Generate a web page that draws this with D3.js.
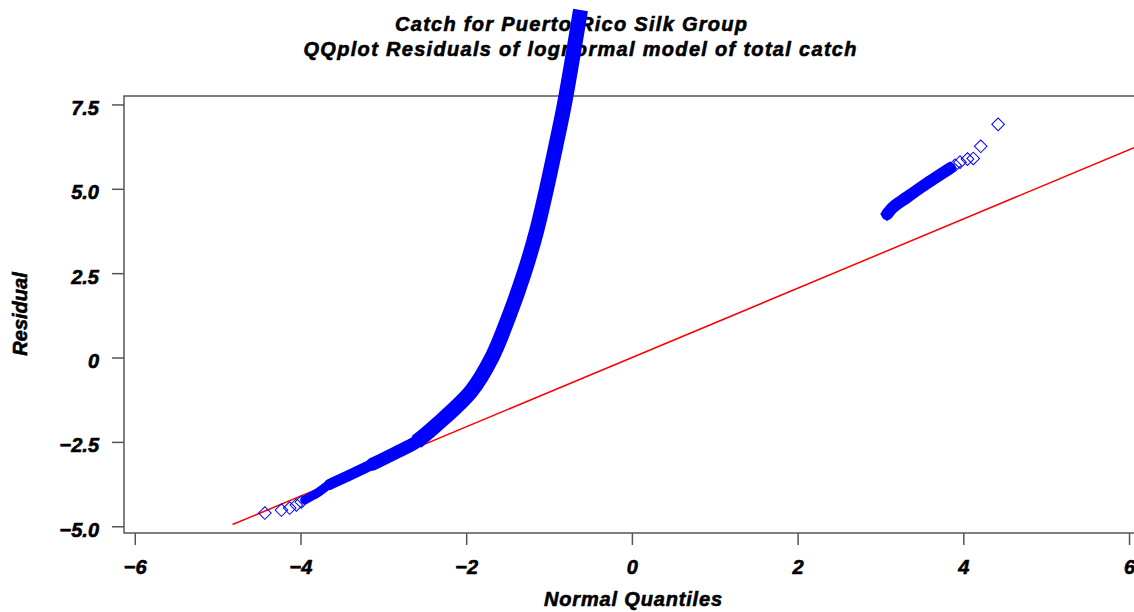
<!DOCTYPE html>
<html>
<head>
<meta charset="utf-8">
<script src="https://cdn.jsdelivr.net/npm/d3@7"></script>
<style>
  body { margin: 0; background: #fff; }
  text { font-family: "Liberation Sans", Arial, sans-serif; font-weight: bold; font-style: italic; fill: #000; stroke: #000; stroke-width: 0.6px; }
</style>
</head>
<body>
<svg width="1134" height="612"></svg>
<script>
// lower tail, sparse open diamonds
const lowTailQ = [-4.43, -4.23, -4.13, -4.05, -3.99]
const lowTailR = [-4.61, -4.52, -4.46, -4.37, -4.28]
// main dense band (normal quantile, residual)
const mainQ = [-3.95, -3.89, -3.80, -3.65, -3.41, -3.13, -2.85, -2.60, -2.36, -1.94, -1.69, -1.48, -1.30, -1.15, -1.03, -0.92, -0.815, -0.62]
const mainR = [-4.22, -4.14, -4.02, -3.76, -3.49, -3.16, -2.82, -2.50, -2.00, -1.00, 0.00, 1.25, 2.50, 3.75, 5.00, 6.25, 7.50, 10.3]
// upper cluster, dense part
const highQ = [3.08, 3.15, 3.32, 3.56, 3.84]
const highR = [4.25, 4.45, 4.75, 5.16, 5.61]
// upper tail, sparse open diamonds
const highTailQ = [3.90, 3.96, 4.05, 4.12, 4.21, 4.42]
const highTailR = [5.70, 5.79, 5.88, 5.90, 6.26, 6.91]
// reference line
const fitQ = [-4.82, 6.06]
const fitR = [-4.95, 6.22]

const xTicks = [-6, -4, -2, 0, 2, 4, 6]
const xTickLabels = ['\u22126', '\u22124', '\u22122', '0', '2', '4', '6']
const yTicks = [7.5, 5, 2.5, 0, -2.5, -5]
const yTickLabels = ['7.5', '5.0', '2.5', '0', '\u22122.5', '\u22125.0']

const titles = ['Catch for Puerto Rico Silk Group', 'QQplot Residuals of lognormal model of total catch']

const plotLeft = 124, plotRight = 1134, plotTop = 96, plotBottom = 533
const svg = d3.select('svg')

const xScale = d3.scaleLinear().domain([-6.13, 6.06]).range([plotLeft, plotRight])
const yScale = d3.scaleLinear().domain([-5.2, 7.75]).range([plotBottom, plotTop])

// titles
svg.append('text').attr('x', 571).attr('y', 31).attr('text-anchor', 'middle')
  .attr('font-size', 20).attr('textLength', 352).attr('lengthAdjust', 'spacing').text(titles[0])
svg.append('text').attr('x', 580).attr('y', 56).attr('text-anchor', 'middle')
  .attr('font-size', 20).attr('textLength', 553).attr('lengthAdjust', 'spacing').text(titles[1])

// frame
svg.append('path')
  .attr('d', `M${plotRight + 2},${plotTop}H${plotLeft}V${plotBottom}H${plotRight + 2}`)
  .attr('fill', 'none').attr('stroke', '#555').attr('stroke-width', 1.5)

// axes
const xAxis = svg.append('g')
  .attr('transform', `translate(0, ${plotBottom})`)
  .call(d3.axisBottom(xScale).tickValues(xTicks).tickSize(12).tickFormat((d, i) => xTickLabels[i]))
xAxis.select('.domain').remove()
xAxis.selectAll('line').attr('stroke', '#555').attr('stroke-width', 1.5)
xAxis.selectAll('text').attr('font-size', 20).attr('y', 41).attr('dy', 0)

const yAxis = svg.append('g')
  .attr('transform', `translate(${plotLeft}, 0)`)
  .call(d3.axisLeft(yScale).tickValues(yTicks).tickSize(12).tickFormat((d, i) => yTickLabels[i]))
yAxis.select('.domain').remove()
yAxis.selectAll('line').attr('stroke', '#555').attr('stroke-width', 1.5)
yAxis.selectAll('text').attr('font-size', 20).attr('x', -25).attr('dy', 10)

svg.selectAll('.tick text').attr('fill', '#000')
xAxis.attr('font-family', null).attr('font-size', null)
yAxis.attr('font-family', null).attr('font-size', null)

// axis labels
svg.append('text').attr('x', 633).attr('y', 606).attr('text-anchor', 'middle')
  .attr('font-size', 20).attr('textLength', 178).attr('lengthAdjust', 'spacing').text('Normal Quantiles')
svg.append('text').attr('transform', 'translate(27, 314) rotate(-90)').attr('text-anchor', 'middle')
  .attr('font-size', 20).text('Residual')

// reference line
svg.append('line')
  .attr('x1', xScale(fitQ[0])).attr('y1', yScale(fitR[0]))
  .attr('x2', xScale(fitQ[1])).attr('y2', yScale(fitR[1]))
  .attr('stroke', '#ff0000').attr('stroke-width', 1.5)

// dense bands of overlapping markers, getting thicker where the points pile up
const line = d3.line().x(d => xScale(d[0])).y(d => yScale(d[1])).curve(d3.curveCatmullRom)
const mainPts = mainQ.map((q, i) => [q, mainR[i]])
const segments = [[0, 5, 9], [3, 8, 11], [5, 10, 13], [7, mainPts.length, 15]]
segments.forEach(([a, b, w]) => {
  svg.append('path').attr('d', line(mainPts.slice(a, b)))
    .attr('fill', 'none').attr('stroke', '#0000ff').attr('stroke-width', w)
    .attr('stroke-linejoin', 'round').attr('stroke-linecap', b === mainPts.length ? 'butt' : 'round')
})
svg.append('path').attr('d', line(highQ.map((q, i) => [q, highR[i]])))
  .attr('fill', 'none').attr('stroke', '#0000ff').attr('stroke-width', 12)
  .attr('stroke-linejoin', 'round').attr('stroke-linecap', 'round')

// open diamond markers
const diamond = d3.symbol(d3.symbolSquare, 80)
const sparse = lowTailQ.map((q, i) => [q, lowTailR[i]])
  .concat(highTailQ.map((q, i) => [q, highTailR[i]]))
  .concat(highQ.map((q, i) => [q, highR[i]]))
svg.append('g').selectAll('path')
  .data(sparse)
  .enter()
  .append('path')
  .attr('d', diamond)
  .attr('transform', d => `translate(${xScale(d[0])}, ${yScale(d[1])}) rotate(45)`)
  .attr('fill', 'none')
  .attr('stroke', '#0000ff')
  .attr('stroke-width', 1)
</script>
</body>
</html>
